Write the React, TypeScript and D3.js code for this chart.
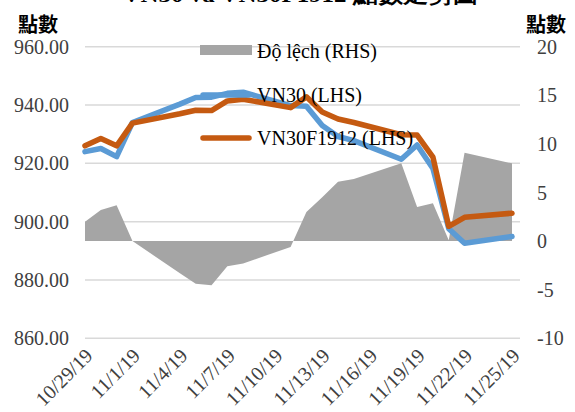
import React from "react";
import * as d3 from "d3";

// trading days
const dates = [
  "2019-10-29", "2019-10-30", "2019-10-31", "2019-11-01", "2019-11-04",
  "2019-11-05", "2019-11-06", "2019-11-07", "2019-11-08", "2019-11-11",
  "2019-11-12", "2019-11-13", "2019-11-14", "2019-11-15", "2019-11-18",
  "2019-11-19", "2019-11-20", "2019-11-21", "2019-11-22", "2019-11-25",
];
const vn30 = [
  924.0, 925.1, 922.3, 934.0, 940.3, 942.6, 942.7, 944.0, 944.4, 939.8,
  939.6, 933.0, 929.2, 927.8, 921.4, 926.3, 918.2, 897.6, 892.6, 894.9,
];
const vn30f1912 = [
  926.0, 928.5, 926.0, 933.8, 937.0, 938.2, 938.1, 941.4, 942.0, 939.1,
  942.8, 937.6, 935.2, 934.0, 929.8, 929.7, 922.1, 898.4, 901.5, 902.9,
];
const deviation = [
  2.0, 3.2, 3.7, 0, -3.3, -4.4, -4.55, -2.6, -2.3, -0.6,
  3.0, 4.5, 6.1, 6.4, 8.0, 3.5, 3.9, 0.1, 9.1, 8.0,
];
const leftTicks = [860, 880, 900, 920, 940, 960];
const rightTicks = [-10, -5, 0, 5, 10, 15, 20];
const legendLabels = ["Độ lệch (RHS)", "VN30 (LHS)", "VN30F1912 (LHS)"];

const W = 575, H = 412;
const serif = "'Liberation Serif', 'Times New Roman', serif";
const cjk = "'Noto Sans CJK TC', 'Noto Sans CJK SC', sans-serif";

export default function App() {
  const parse = d3.timeParse("%Y-%m-%d");
  const days = dates.map((d) => parse(d) as Date);
  const x = d3.scaleTime().domain([days[0], days[days.length - 1]]).range([85, 512]);
  const yL = d3.scaleLinear().domain([860, 960]).range([338.3, 46.7]);
  const yR = d3.scaleLinear().domain([-10, 20]).range([338.3, 46.7]);
  const fmt = d3.timeFormat("%-m/%-d/%y");
  const tickDays = d3.timeDay.range(days[0], d3.timeDay.offset(days[days.length - 1], 1), 3);

  const area = d3.area<number>()
    .x((_, i) => x(days[i]))
    .y0(yR(0))
    .y1((d) => yR(d));
  const line = d3.line<number>()
    .x((_, i) => x(days[i]))
    .y((d) => yL(d));

  const legY = [51, 95, 138];

  return (
    <svg width={W} height={H} style={{ position: "absolute", left: 0, top: 0, background: "#fff" }}>
      {/* title, cut off by the top edge as in the source */}
      <text x={300} y={2} textAnchor="middle" fontFamily={serif} fontWeight={700} fontSize={22}
        textLength={355} lengthAdjust="spacingAndGlyphs" fill="#000">
        VN30 và VN30F1912 點數走勢圖
      </text>
      <text x={18} y={23} dominantBaseline="central" fontFamily={cjk} fontWeight={700} fontSize={20} fill="#000">點數</text>
      <text x={526} y={23} dominantBaseline="central" fontFamily={cjk} fontWeight={700} fontSize={20} fill="#000">點數</text>

      {leftTicks.map((t) => (
        <g key={t}>
          <line x1={85} x2={520} y1={yL(t)} y2={yL(t)} stroke="#d9d9d9" strokeWidth={1.5} />
          <text x={69} y={yL(t)} textAnchor="end" dominantBaseline="central" fontFamily={serif} fontSize={20} fill="#404040">
            {t.toFixed(2)}
          </text>
        </g>
      ))}
      {rightTicks.map((t) => (
        <text key={t} x={537} y={yR(t)} dominantBaseline="central" fontFamily={serif} fontSize={20} fill="#404040">
          {t}
        </text>
      ))}

      <path d={area(deviation) || ""} fill="#a5a5a5" />
      <path d={line(vn30) || ""} fill="none" stroke="#5b9bd5" strokeWidth={5.5} strokeLinejoin="round" strokeLinecap="round" />
      <path d={line(vn30f1912) || ""} fill="none" stroke="#c55a11" strokeWidth={5.5} strokeLinejoin="round" strokeLinecap="round" />

      {tickDays.map((d, i) => (
        <text key={i} transform={`translate(${x(d) + 4},${352}) rotate(-45)`} textAnchor="end"
          dominantBaseline="central" fontFamily={serif} fontSize={20} fill="#404040">
          {fmt(d)}
        </text>
      ))}

      {/* legend */}
      <rect x={200} y={45} width={52} height={10} fill="#a5a5a5" />
      <line x1={203} x2={249} y1={legY[1]} y2={legY[1]} stroke="#5b9bd5" strokeWidth={5.5} strokeLinecap="round" />
      <line x1={203} x2={249} y1={legY[2]} y2={legY[2]} stroke="#c55a11" strokeWidth={5.5} strokeLinecap="round" />
      {legendLabels.map((l, i) => (
        <text key={l} x={257} y={legY[i]} dominantBaseline="central" fontFamily={serif} fontSize={20} fill="#000">
          {l}
        </text>
      ))}
    </svg>
  );
}
